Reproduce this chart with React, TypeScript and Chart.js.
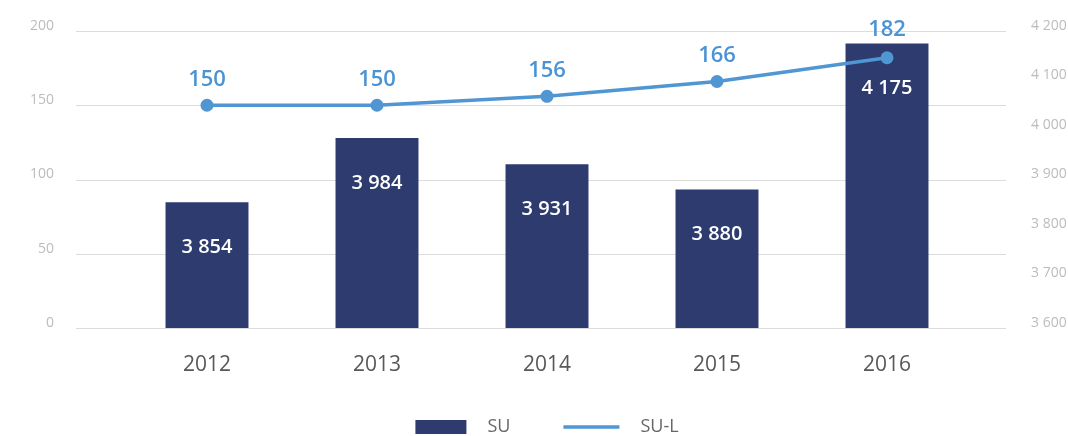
import React, { useEffect, useRef } from "react";
import { Chart, registerables } from "chart.js";

Chart.register(...registerables);

const categories = ["2012", "2013", "2014", "2015", "2016"];
const seriesNames = ["SU", "SU-L"];
const suValues = [3854, 3984, 3931, 3880, 4175];
const sulValues = [150, 150, 156, 166, 182];
const leftAxis = { min: 0, max: 200, step: 50 };
const rightAxis = { min: 3600, max: 4200, step: 100 };

const BAR_COLOR = "#2d3b6e";
const LINE_COLOR = "#4f96d3";
const LABEL_BLUE = "#4b93d4";
const GRID_COLOR = "#dcdcdc";
const TICK_COLOR = "#bcbcbc";
const FONT = "'Open Sans', sans-serif";

const fmt = (n: number) => String(n).replace(/\B(?=(\d{3})+(?!\d))/g, " ");

const gridPlugin = {
  id: "extendedGrid",
  beforeDatasetsDraw(chart: any) {
    const { ctx, chartArea, scales } = chart;
    const y = scales.y;
    ctx.save();
    ctx.strokeStyle = GRID_COLOR;
    ctx.lineWidth = 1;
    y.ticks.forEach((t: any) => {
      const py = Math.round(y.getPixelForValue(t.value)) + 0.5;
      ctx.beginPath();
      ctx.moveTo(chartArea.left - 46, py);
      ctx.lineTo(chartArea.right + 34, py);
      ctx.stroke();
    });
    ctx.restore();
  },
};

const labelsPlugin = {
  id: "valueLabels",
  afterDatasetsDraw(chart: any) {
    const { ctx } = chart;
    const barMeta = chart.getDatasetMeta(0);
    const lineMeta = chart.getDatasetMeta(1);
    ctx.save();
    ctx.textAlign = "center";
    ctx.textBaseline = "middle";
    ctx.font = `600 20px ${FONT}`;
    ctx.fillStyle = "#ffffff";
    barMeta.data.forEach((bar: any, i: number) => {
      ctx.fillText(fmt(chart.data.datasets[0].data[i]), bar.x, bar.y + 45);
    });
    ctx.font = `600 22px ${FONT}`;
    ctx.fillStyle = LABEL_BLUE;
    lineMeta.data.forEach((pt: any, i: number) => {
      let cy = pt.y - 26;
      const barTop = barMeta.data[i].y;
      if (cy + 8 > barTop - 6) cy = barTop - 14;
      ctx.fillText(fmt(chart.data.datasets[1].data[i]), pt.x, cy);
    });
    ctx.restore();
  },
};

const legendPlugin = {
  id: "customLegend",
  afterDraw(chart: any) {
    const { ctx, chartArea } = chart;
    const cy = 427;
    ctx.save();
    ctx.font = `18px ${FONT}`;
    ctx.textBaseline = "middle";
    ctx.textAlign = "left";
    const symW = [51, 56];
    const gapText = 21;
    const gapItem = 53;
    const names = chart.data.datasets.map((d: any) => d.label);
    const textW = names.map((n: string) => ctx.measureText(n).width);
    let total = 0;
    names.forEach((_: string, i: number) => {
      total += symW[i] + gapText + textW[i];
      if (i < names.length - 1) total += gapItem;
    });
    let x = (chartArea.left + chartArea.right) / 2 - total / 2;
    names.forEach((n: string, i: number) => {
      if (i === 0) {
        ctx.fillStyle = BAR_COLOR;
        ctx.fillRect(x, cy - 7, symW[i], 14);
      } else {
        ctx.strokeStyle = LINE_COLOR;
        ctx.lineWidth = 3.5;
        ctx.beginPath();
        ctx.moveTo(x, cy);
        ctx.lineTo(x + symW[i], cy);
        ctx.stroke();
      }
      x += symW[i] + gapText;
      ctx.fillStyle = "#666666";
      ctx.fillText(n, x, cy);
      x += textW[i] + gapItem;
    });
    ctx.restore();
  },
};

export default function App() {
  const ref = useRef<HTMLCanvasElement | null>(null);
  useEffect(() => {
    if (!ref.current) return;
    const chart = new Chart(ref.current, {
      type: "bar",
      data: {
        labels: categories,
        datasets: [
          {
            type: "bar",
            label: seriesNames[0],
            data: suValues,
            backgroundColor: BAR_COLOR,
            yAxisID: "y1",
            order: 1,
            categoryPercentage: 1,
            barPercentage: 0.488,
          },
          {
            type: "line",
            label: seriesNames[1],
            data: sulValues,
            borderColor: LINE_COLOR,
            backgroundColor: LINE_COLOR,
            pointBackgroundColor: LINE_COLOR,
            pointBorderWidth: 0,
            pointRadius: 6.5,
            borderWidth: 3.5,
            tension: 0,
            yAxisID: "y",
            order: 0,
            clip: false,
          } as any,
        ],
      },
      options: {
        animation: false,
        responsive: false,
        maintainAspectRatio: false,
        layout: { padding: { top: 31, left: 0, right: 0, bottom: 0 } },
        plugins: {
          legend: { display: false },
          tooltip: { enabled: false },
        },
        scales: {
          x: {
            offset: true,
            grid: { display: false, drawTicks: false },
            border: { display: false },
            ticks: {
              color: "#585858",
              font: { family: FONT, size: 21 },
              padding: 24,
            },
            afterFit: (s: any) => {
              s.height = 108;
              s.paddingLeft = 0;
              s.paddingRight = 0;
            },
          },
          y: {
            position: "left",
            min: leftAxis.min,
            max: leftAxis.max,
            grid: { display: false, drawTicks: false },
            border: { display: false },
            ticks: {
              stepSize: leftAxis.step,
              color: TICK_COLOR,
              font: { family: FONT, size: 14 },
              padding: 68,
              labelOffset: -5,
            },
            afterFit: (s: any) => {
              s.width = 122;
              s.paddingTop = 0;
              s.paddingBottom = 0;
            },
          },
          y1: {
            position: "right",
            min: rightAxis.min,
            max: rightAxis.max,
            grid: { display: false, drawTicks: false },
            border: { display: false },
            ticks: {
              stepSize: rightAxis.step,
              color: TICK_COLOR,
              font: { family: FONT, size: 14 },
              padding: 59,
              labelOffset: -5,
              callback: (v: any) => fmt(Number(v)),
            },
            afterFit: (s: any) => {
              s.width = 96;
              s.paddingTop = 0;
              s.paddingBottom = 0;
            },
          },
        },
      },
      plugins: [gridPlugin, labelsPlugin, legendPlugin],
    });
    return () => chart.destroy();
  }, []);
  return (
    <div style={{ position: "absolute", left: 0, top: 0, width: 1068, height: 436, background: "#fff" }}>
      <canvas ref={ref} width={1068} height={436} style={{ width: 1068, height: 436 }} />
    </div>
  );
}
